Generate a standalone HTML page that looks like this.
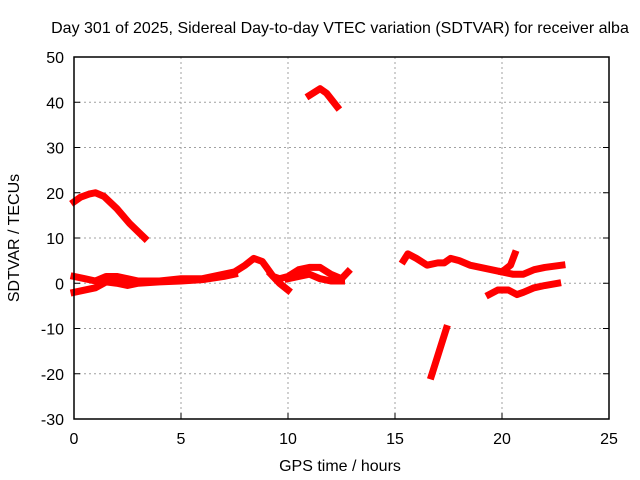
<!DOCTYPE html>
<html><head><meta charset="utf-8"><style>
body{margin:0;background:#fff}
svg{display:block;font-family:"Liberation Sans",sans-serif}
</style></head><body>
<svg id="c" width="640" height="480">
<text x="340" y="33" font-size="16" text-anchor="middle">Day 301 of 2025, Sidereal Day-to-day VTEC variation (SDTVAR) for receiver alba</text>
<text x="340" y="471" font-size="16" text-anchor="middle">GPS time / hours</text>
<text transform="translate(19,238) rotate(-90)" font-size="16" text-anchor="middle">SDTVAR / TECUs</text>
<g id="grid"></g><g id="ticks"></g><g id="data"></g>
<rect x="74" y="57" width="535" height="362" fill="none" stroke="#000" stroke-width="1.5"/>
</svg>
<script>
const xTicks=[0,5,10,15,20,25];
const yTicks=[-30,-20,-10,0,10,20,30,40,50];
const arcEarly=[[0,18],[0.3,19],[0.7,19.7],[1.0,20],[1.4,19.2],[2,16.5],[2.6,13.2],[3.3,10]];
const bandUpper=[[0,1.5],[0.5,1],[1,0.5],[1.5,1.5],[2,1.5],[3,0.5],[4,0.5],[5,1],[6,1],[7,2],[7.5,2.5],[8,4],[8.4,5.5],[8.8,4.8],[9,3.5],[9.3,1.5],[9.6,1],[10,1.5],[10.5,3],[11,3.5],[11.5,3.5],[12,2],[12.5,1],[12.8,2.5]];
const bandLower=[[0,-2],[0.5,-1.5],[1,-1],[1.5,0.3],[2,0],[2.5,-0.5],[3,0],[4,0.3],[5,0.5],[6,0.8],[7,1.5],[7.5,2]];
const dipMid=[[9.2,2],[9.6,0],[10,-1.5]];
const bandMidLow=[[10,1],[10.5,1.5],[11,2],[11.5,1],[12,0.5],[12.5,0.5]];
const arcHigh=[[11,41.5],[11.5,43],[11.8,42],[12.3,39]];
const afternoon=[[15.4,5],[15.6,6.5],[16,5.5],[16.5,4],[17,4.5],[17.3,4.5],[17.6,5.5],[18,5],[18.5,4],[19,3.5],[19.5,3],[20,2.5],[20.4,4],[20.6,6.5]];
const evening=[[20,2.5],[20.5,2],[21,2],[21.5,3],[22,3.5],[22.8,4]];
const eveningLow=[[19.4,-2.5],[19.8,-1.5],[20.3,-1.5],[20.7,-2.5],[21,-2],[21.5,-1],[22,-0.5],[22.6,0]];
const steepDrop=[[16.7,-20.5],[17,-16],[17.4,-10]];
const series=[arcEarly,bandUpper,bandLower,dipMid,bandMidLow,arcHigh,afternoon,evening,eveningLow,steepDrop];
const X0=74,X1=609,Y0=419,Y1=57;
const sx=v=>X0+(v-0)/(25-0)*(X1-X0);
const sy=v=>Y0-(v+30)/(80)*(Y0-Y1);
const NS='http://www.w3.org/2000/svg';
const g=document.getElementById('grid'),t=document.getElementById('ticks'),d=document.getElementById('data');
function mk(tag,attrs,parent){const e=document.createElementNS(NS,tag);for(const k in attrs)e.setAttribute(k,attrs[k]);parent.appendChild(e);return e;}
xTicks.forEach(v=>{const x=sx(v);
 if(v>0&&v<25){const l=mk('line',{x1:x,x2:x,y1:Y1,y2:Y0,stroke:'#a0a0a0','stroke-dasharray':'2,3'},g);
 
 }
 const tk=mk('line',{x1:x,x2:x,y1:Y0,y2:Y0-6,stroke:'#000'},t);
 
 
 const tx=mk('text',{x:x,y:Y0+25,'font-size':16,'text-anchor':'middle'},t);tx.textContent=v;
 
 });
yTicks.forEach(v=>{const y=sy(v);
 if(v>-30&&v<50){const l=mk('line',{x1:X0,x2:X1,y1:y,y2:y,stroke:'#a0a0a0','stroke-dasharray':'2,3'},g);
 
 }
 const tk=mk('line',{x1:X0,x2:X0+6,y1:y,y2:y,stroke:'#000'},t);
 
 
 const tk2=mk('line',{x1:X1,x2:X1-6,y1:y,y2:y,stroke:'#000'},t);
 
 
 const tx=mk('text',{x:X0-10,y:y+6,'font-size':16,'text-anchor':'end'},t);tx.textContent=v;
 
 });
series.forEach((s,i)=>{
 const p=mk('polyline',{points:s.map(q=>sx(q[0])+','+sy(q[1])).join(' '),fill:'none',stroke:'#f00','stroke-width':7,'stroke-linejoin':'round','stroke-linecap':'square'},d);
 
 
});
</script>
</body></html>
